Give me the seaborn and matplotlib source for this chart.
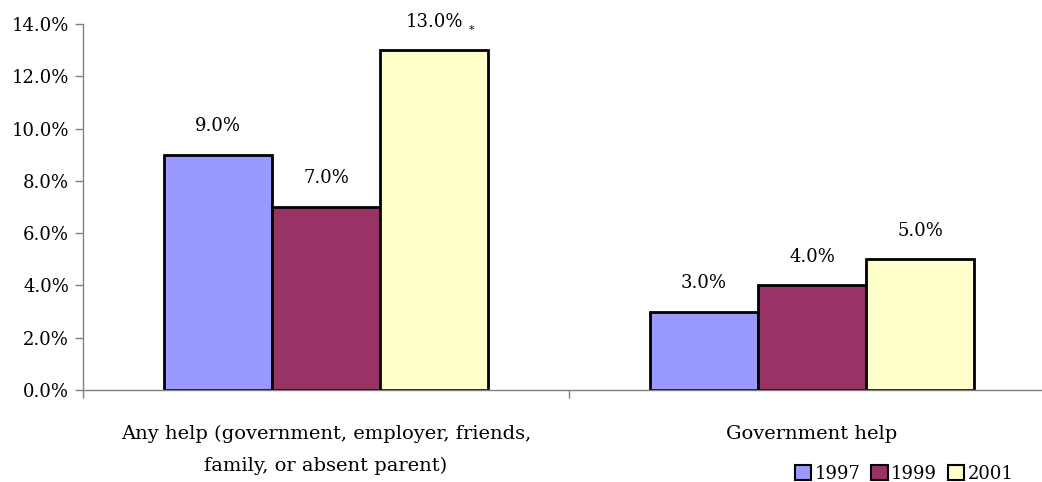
import matplotlib
matplotlib.use("Agg")
import matplotlib.pyplot as plt
import seaborn as sns
import pandas as pd
from matplotlib.ticker import FuncFormatter, FixedLocator
from matplotlib.patches import Patch

categories = ["Any help (government, employer, friends,\nfamily, or absent parent)", "Government help"]
years = ["1997", "1999", "2001"]
values_1997 = [9.0, 3.0]
values_1999 = [7.0, 4.0]
values_2001 = [13.0, 5.0]
colors = ["#9999FF", "#993366", "#FFFFCC"]

rows = []
for yr, vals in zip(years, [values_1997, values_1999, values_2001]):
    for c, v in zip(categories, vals):
        rows.append({"category": c, "year": yr, "value": v})
df = pd.DataFrame(rows)

sns.set_style("white")
plt.rcParams["font.family"] = ["DejaVu Serif"]
plt.rcParams["text.color"] = "black"
plt.rcParams["xtick.labelcolor"] = "black"
plt.rcParams["ytick.labelcolor"] = "black"
FS = 13

fig = plt.figure(figsize=(10.42, 4.82), dpi=100)
ax = fig.add_axes([83/1042, 1-390/482, (1055-83)/1042, (390-24)/482])

sns.barplot(data=df, x="category", y="value", hue="year", order=categories,
            hue_order=years, palette=colors, width=0.667, edgecolor="black",
            linewidth=2, ax=ax, legend=False, saturation=1)

ax.set_xlim(-0.5, 1.5)
ax.set_ylim(0, 14)
ax.set_yticks([0, 2, 4, 6, 8, 10, 12, 14])
ax.yaxis.set_major_formatter(FuncFormatter(lambda v, p: f"{v:.1f}%"))
ax.tick_params(axis="y", labelsize=FS, length=6, width=1, color="#808080", labelcolor="black",
               direction="out", left=True, pad=4)
ax.tick_params(axis="x", labelsize=14, length=0, pad=25, labelcolor="black")
ax.xaxis.set_minor_locator(FixedLocator([-0.5, 0.5, 1.5]))
ax.tick_params(axis="x", which="minor", length=6, width=1, color="#808080", direction="out", bottom=True)
for lbl in ax.get_xticklabels():
    lbl.set_linespacing(1.95)
ax.set_xlabel("")
ax.set_ylabel("")
for s in ["top", "right"]:
    ax.spines[s].set_visible(False)
for s in ["left", "bottom"]:
    ax.spines[s].set_color("#808080")
    ax.spines[s].set_linewidth(1)

for cont in ax.containers:
    for bar in cont:
        h = bar.get_height()
        x = bar.get_x() + bar.get_width() / 2
        ax.text(x, h + 0.75, f"{h:.1f}%", ha="center", va="bottom", fontsize=FS, color="black")
        if h == 13.0:
            ax.annotate("*", xy=(x, h + 0.75), xytext=(27, -3), textcoords="offset points",
                        ha="center", va="bottom", fontsize=8, color="black")

handles = [Patch(facecolor=c, edgecolor="black", linewidth=1.5) for c in colors]
fig.legend(handles, years, loc="lower right", bbox_to_anchor=(1030/1042, -0.035), ncol=3,
           frameon=False, fontsize=FS, handlelength=0.9, handleheight=0.9,
           handletextpad=0.2, columnspacing=0.6, labelcolor="black")

fig.savefig("out.png", dpi=100)
